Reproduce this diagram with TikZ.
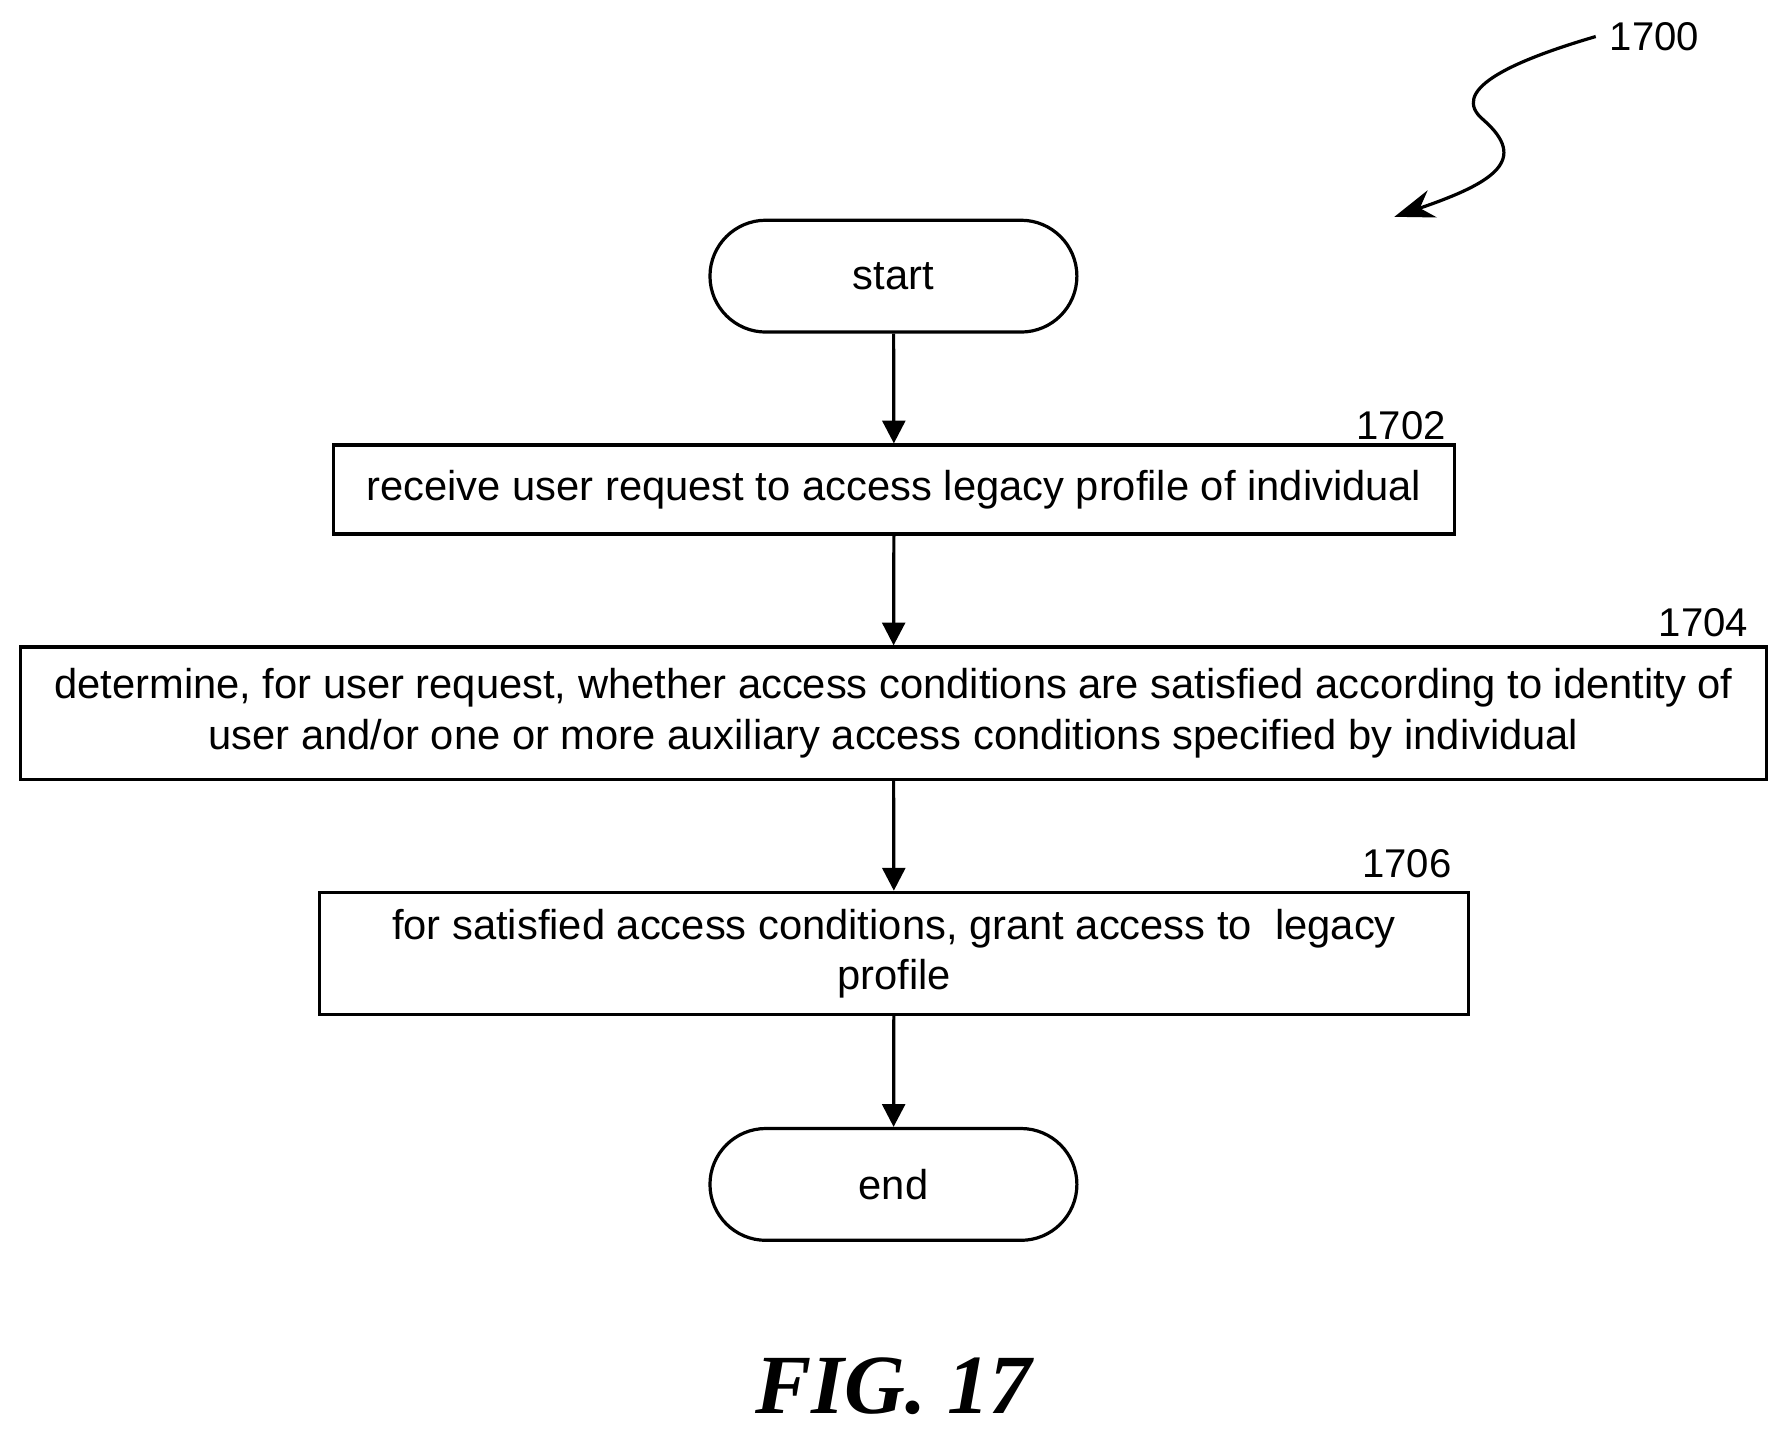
\documentclass[tikz,border=0pt]{standalone}
\usepackage{fontspec}
\setmainfont{Liberation Sans}
\newfontfamily\figfont{Liberation Serif}
\usetikzlibrary{positioning,arrows.meta,shapes.misc}
\tikzset{
  procbox/.style={draw, thick, rectangle, align=center, inner sep=0pt},
  term/.style={draw, thick, rounded rectangle, minimum width=3.45cm, minimum height=0.98cm},
  flow/.style={-{Triangle[length=0.2cm,width=0.2cm]}, thick},
  tag/.style={font=\fontsize{10}{11}\selectfont}
}
\begin{document}
\begin{tikzpicture}[font=\fontsize{10.4}{12.5}\selectfont]
  \useasboundingbox (0,0) rectangle (15.6,-12.55);
  \node[term] (start) at (7.83,-2.42) {start};
  \node[procbox, minimum width=9.83cm, minimum height=0.78cm] (recv) at (7.835,-4.29)
        {receive user request to access legacy profile of individual};
  \node[procbox, minimum width=15.3cm, minimum height=1.16cm] (check) at (7.83,-6.25)
        {determine, for user request, whether access conditions are satisfied according to identity of\\
         user and/or one or more auxiliary access conditions specified by individual};
  \node[procbox, minimum width=10.07cm, minimum height=1.07cm] (grant) at (7.835,-8.355)
        {for satisfied access conditions, grant access to\ \ legacy\\ profile};
  \node[term] (end) at (7.83,-10.38) {end};
  \draw[flow] (start) -- (recv);
  \draw[flow] (recv) -- (check);
  \draw[flow] (check) -- (grant);
  \draw[flow] (grant) -- (end);
  % reference numerals
  \node[tag] (n1702) at (12.28,-3.73) {1702};
  \node[tag] (n1704) at (14.93,-5.46) {1704};
  \node[tag] (n1706) at (12.33,-7.57) {1706};
  \node[tag] (n1700) at (14.50,-0.32) {1700};
  \coordinate (tip) at (12.22,-1.90);
  \draw[thick, -{Stealth[length=0.35cm,width=0.25cm]}] (n1700.west) .. controls (13.2,-0.55) and (12.7,-0.8) .. (13.0,-1.05)
        .. controls (13.4,-1.4) and (13.1,-1.6) .. (tip);
  \node[font=\figfont\bfseries\itshape\fontsize{21}{23}\selectfont] (fig) at (7.83,-12.15) {FIG. 17};
\end{tikzpicture}
\end{document}
